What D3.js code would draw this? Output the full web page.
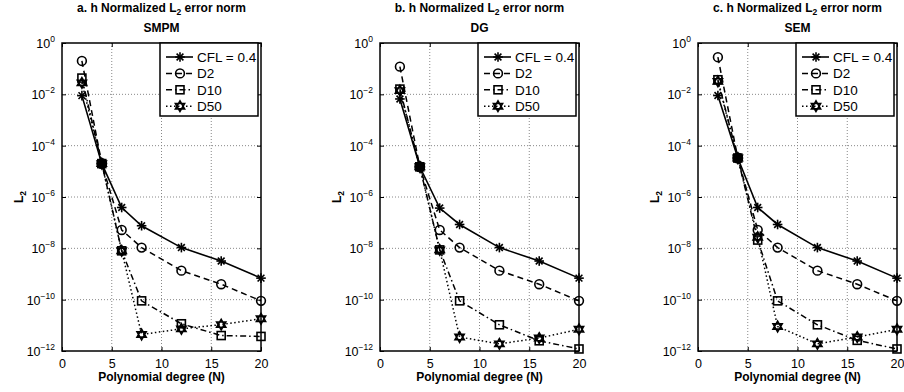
<!DOCTYPE html>
<html>
<head>
<meta charset="utf-8">
<script src="https://cdn.jsdelivr.net/npm/d3@7"></script>
<style>
  body { margin: 0; background: #fff; }
  svg { font-family: "Liberation Sans", Arial, sans-serif; }
</style>
</head>
<body>
<script>
var W = 904, H = 392;

// polynomial degree N
var degrees = [2, 4, 6, 8, 12, 16, 20];
var seriesNames = ['CFL = 0.4', 'D2', 'D10', 'D50'];
var panelTitles = ['a. h Normalized L', 'b. h Normalized L', 'c. h Normalized L'];
var methodNames = ['SMPM', 'DG', 'SEM'];
var xTicks = [0, 5, 10, 15, 20];
var yExponents = [0, -2, -4, -6, -8, -10, -12];

// SMPM
var smpmCfl = [8.9e-3, 2e-5, 3.9e-7, 7.6e-8, 1.07e-8, 3.2e-9, 6.9e-10];
var smpmD2  = [0.2, 2e-5, 5.2e-8, 1.07e-8, 1.35e-9, 4e-10, 9e-11];
var smpmD10 = [0.043, 2e-5, 8e-9, 9e-11, 1.15e-11, 4e-12, 3.7e-12];
var smpmD50 = [0.028, 2e-5, 8e-9, 4.4e-12, 7.3e-12, 1.07e-11, 1.8e-11];

// DG
var dgCfl = [6.6e-3, 1.5e-5, 3.7e-7, 8.5e-8, 1.07e-8, 3.2e-9, 6.9e-10];
var dgD2  = [0.12, 1.5e-5, 5.2e-8, 1.07e-8, 1.35e-9, 4e-10, 9e-11];
var dgD10 = [0.016, 1.5e-5, 8.7e-9, 9e-11, 1.05e-11, 2.5e-12, 1.2e-12];
var dgD50 = [0.014, 1.5e-5, 8.7e-9, 3.5e-12, 1.9e-12, 3.2e-12, 7e-12];

// SEM
var semCfl = [9e-3, 3.3e-5, 3.9e-7, 8.5e-8, 1.07e-8, 3.2e-9, 6.9e-10];
var semD2  = [0.28, 3.3e-5, 5.2e-8, 1.07e-8, 1.35e-9, 4e-10, 9e-11];
var semD10 = [0.037, 3.3e-5, 2.1e-8, 9e-11, 1.05e-11, 2.6e-12, 1.2e-12];
var semD50 = [0.032, 3.3e-5, 2.7e-8, 9e-12, 1.9e-12, 3.5e-12, 7e-12];

var panelData = [
  [smpmCfl, smpmD2, smpmD10, smpmD50],
  [dgCfl, dgD2, dgD10, dgD50],
  [semCfl, semD2, semD10, semD50]
];

var markerTypes = ['asterisk', 'circle', 'square', 'hexagram'];
var dashes = [null, '6,4', '6,3,1.5,3', '1.5,2.5'];
var widths = [1.6, 1.5, 1.5, 1.5];

var plotTop = 43, plotBottom = 351, plotWidth = 199;
var lefts = [62, 380, 698];

var svg = d3.select('body').append('svg')
  .attr('width', W)
  .attr('height', H);

// unfilled markers, as matlab draws them (the line shows through)
function drawMarker(g, type, x, y) {
  var m = g.append('g')
    .attr('transform', 'translate(' + x + ',' + y + ')')
    .attr('fill', 'none')
    .attr('stroke', '#000')
    .attr('stroke-width', 1.6);
  if (type == 'asterisk') {
    var r = 4.8;
    for (let k = 0; k < 4; k++) {
      let a = k * Math.PI / 4;
      m.append('line')
        .attr('x1', -r * Math.cos(a)).attr('y1', -r * Math.sin(a))
        .attr('x2', r * Math.cos(a)).attr('y2', r * Math.sin(a));
    }
  } else if (type == 'circle') {
    m.append('circle').attr('r', 4.4);
  } else if (type == 'square') {
    m.append('rect').attr('x', -4).attr('y', -4).attr('width', 8).attr('height', 8);
  } else if (type == 'hexagram') {
    var rr = 5.3;
    var tri = function(off) {
      var pts = [];
      for (let k = 0; k < 3; k++) {
        let a = off + k * 2 * Math.PI / 3;
        pts.push([rr * Math.sin(a), -rr * Math.cos(a)]);
      }
      return 'M' + pts.map(p => p.join(',')).join('L') + 'Z';
    };
    m.append('path').attr('d', tri(0) + tri(Math.PI));
  }
}

lefts.forEach((left, p) => {
  var x = d3.scaleLinear().domain([0, 20]).range([left, left + plotWidth]);
  var y = d3.scaleLog().domain([1e-12, 1]).range([plotBottom, plotTop]);
  var g = svg.append('g');
  var cx = left + plotWidth / 2;

  // grid
  g.selectAll('.gx').data(xTicks.slice(1, -1)).enter().append('line')
    .attr('x1', d => x(d)).attr('x2', d => x(d))
    .attr('y1', plotTop).attr('y2', plotBottom)
    .attr('stroke', '#888').attr('stroke-width', 1).attr('stroke-dasharray', '1,2');
  g.selectAll('.gy').data(yExponents.slice(1, -1)).enter().append('line')
    .attr('x1', left).attr('x2', left + plotWidth)
    .attr('y1', d => y(Math.pow(10, d))).attr('y2', d => y(Math.pow(10, d)))
    .attr('stroke', '#888').attr('stroke-width', 1).attr('stroke-dasharray', '1,2');

  // axes with inward ticks
  g.append('g').attr('transform', 'translate(0,' + plotBottom + ')')
    .call(d3.axisBottom(x).tickValues(xTicks).tickSize(-4).tickPadding(8).tickFormat(d3.format('d')))
    .call(a => a.select('.domain').remove())
    .selectAll('text').attr('font-size', 12.5).attr('fill', '#000').attr('font-family', 'Liberation Sans, Arial');
  g.append('g').attr('transform', 'translate(0,' + plotTop + ')')
    .call(d3.axisTop(x).tickValues(xTicks).tickSize(-4).tickFormat(''))
    .call(a => a.select('.domain').remove());
  g.append('g').attr('transform', 'translate(' + left + ',0)')
    .call(d3.axisLeft(y).tickValues(yExponents.map(e => Math.pow(10, e))).tickSize(-4).tickFormat(''))
    .call(a => a.select('.domain').remove());
  g.append('g').attr('transform', 'translate(' + (left + plotWidth) + ',0)')
    .call(d3.axisRight(y).tickValues(yExponents.map(e => Math.pow(10, e))).tickSize(-4).tickFormat(''))
    .call(a => a.select('.domain').remove());

  g.append('rect')
    .attr('x', left).attr('y', plotTop)
    .attr('width', plotWidth).attr('height', plotBottom - plotTop)
    .attr('fill', 'none').attr('stroke', '#000').attr('stroke-width', 1.5);

  // y tick labels 10^e
  var yl = g.selectAll('.yl').data(yExponents).enter().append('text')
    .attr('x', left - 7)
    .attr('y', d => y(Math.pow(10, d)) + 5)
    .attr('text-anchor', 'end')
    .attr('font-size', 12.5);
  yl.append('tspan').text('10');
  yl.append('tspan').attr('dy', -6).attr('font-size', 8.5).text(d => d == 0 ? '0' : '\u2212' + (-d));

  // labels
  var t = g.append('text').attr('x', cx).attr('y', 12)
    .attr('text-anchor', 'middle').attr('font-weight', 'bold').attr('font-size', 12);
  t.append('tspan').text(panelTitles[p]);
  t.append('tspan').attr('dy', 3).attr('font-size', 8.5).text('2');
  t.append('tspan').attr('dy', -3).text(' error norm');
  g.append('text').attr('x', cx).attr('y', 32)
    .attr('text-anchor', 'middle').attr('font-weight', 'bold').attr('font-size', 12)
    .text(methodNames[p]);
  g.append('text').attr('x', cx).attr('y', 381)
    .attr('text-anchor', 'middle').attr('font-weight', 'bold').attr('font-size', 12)
    .text('Polynomial degree (N)');
  var yt = g.append('text')
    .attr('transform', 'translate(' + (left - 39) + ',' + ((plotTop + plotBottom) / 2) + ') rotate(-90)')
    .attr('text-anchor', 'middle').attr('font-weight', 'bold').attr('font-size', 12);
  yt.append('tspan').text('L');
  yt.append('tspan').attr('dy', 3).attr('font-size', 8.5).text('2');

  // series
  var series = panelData[p];
  var line = d3.line().x((d, i) => x(degrees[i])).y(d => y(d));
  series.forEach((vals, s) => {
    g.append('path')
      .datum(vals)
      .attr('d', line)
      .attr('fill', 'none')
      .attr('stroke', '#000')
      .attr('stroke-width', widths[s])
      .attr('stroke-dasharray', dashes[s]);
  });
  series.forEach((vals, s) => {
    vals.forEach((v, i) => drawMarker(g, markerTypes[s], x(degrees[i]), y(v)));
  });
  // point shared by every series shows as a solid blob
  degrees.forEach((n, i) => {
    var v = series[0][i];
    if (series.every(arr => arr[i] == v)) {
      g.append('circle').attr('cx', x(n)).attr('cy', y(v)).attr('r', 5.5).attr('fill', '#000');
    }
  });

  // legend
  var lw = 98, lx = left + plotWidth - lw - 3, ly = plotTop;
  var leg = g.append('g');
  leg.append('rect').attr('x', lx).attr('y', ly).attr('width', lw).attr('height', 73)
    .attr('fill', '#fff').attr('stroke', '#000').attr('stroke-width', 1.5);
  seriesNames.forEach((name, s) => {
    var ry = ly + 14 + s * 16.4;
    leg.append('line')
      .attr('x1', lx + 6).attr('x2', lx + 33).attr('y1', ry).attr('y2', ry)
      .attr('stroke', '#000').attr('stroke-width', widths[s])
      .attr('stroke-dasharray', dashes[s]);
    drawMarker(leg, markerTypes[s], lx + 20, ry);
    leg.append('text').attr('x', lx + 37).attr('y', ry + 5)
      .attr('font-size', 13.5).text(name);
  });
});
</script>
</body>
</html>
